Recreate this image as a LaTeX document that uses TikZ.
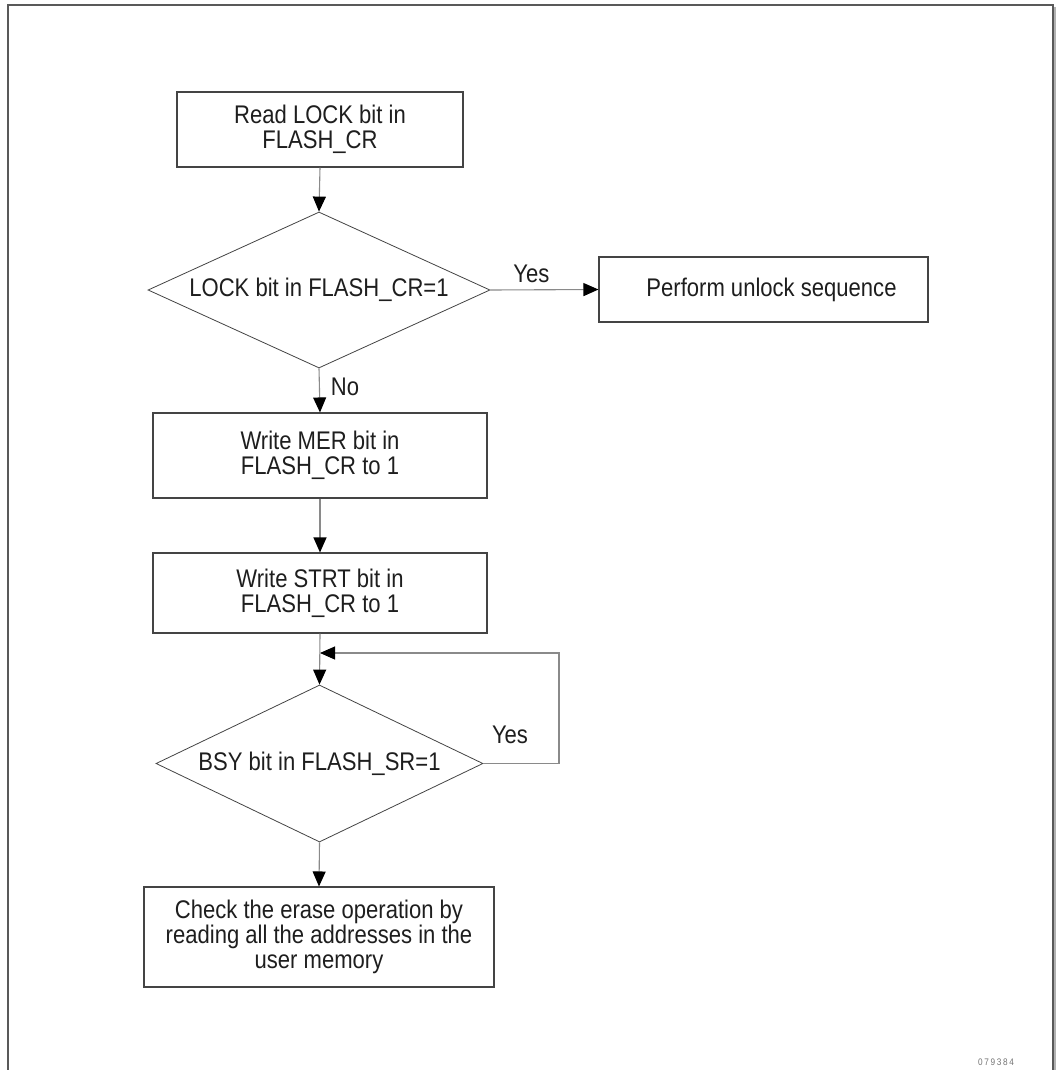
\documentclass[tikz,border=0pt]{standalone}
\usepackage{fontspec}
\setmainfont{Liberation Sans}[FakeStretch=0.865]
\usetikzlibrary{arrows.meta,shapes.geometric}
\definecolor{txt}{HTML}{1E1E1E}
\definecolor{edge}{HTML}{444444}
\definecolor{conn}{HTML}{8A8A8A}
\tikzset{
  box/.style={draw=edge, line width=1.1pt, fill=white, inner sep=0pt, align=center, text=txt,
              font=\fontsize{25.5}{25}\selectfont},
  dec/.style={draw=edge, line width=0.8pt, shape=diamond, inner sep=0pt, align=center, text=txt,
              font=\fontsize{25.5}{25}\selectfont},
  flow/.style={draw=conn, line width=1.1pt, -{Triangle[length=15pt,width=13pt,color=black]}},
  lbl/.style={text=txt, font=\fontsize{25.5}{25}\selectfont, inner sep=0pt},
}
\begin{document}
\begin{tikzpicture}[x=1pt,y=-1pt]
\useasboundingbox (0,0) rectangle (1056,1070);
\fill[white] (0,0) rectangle (1056,1070);
% frame
\draw[draw=gray!60, line width=1.2pt] (1055,7) -- (1055,1070);
\draw[draw=black!65, line width=1.8pt] (8,1070) -- (8,5) -- (1053,5) -- (1053,1070);

\node[box, minimum width=286pt, minimum height=75pt] (b1) at (320,129.5) {Read LOCK bit in\\FLASH\_CR};
\node[dec, minimum width=342pt, minimum height=156pt, aspect=2.19] (d1) at (319,290) {LOCK bit in FLASH\_CR=1};
\node[box, minimum width=329pt, minimum height=65pt] (b2) at (763.5,289.5) {\hspace*{16pt}Perform unlock sequence};
\node[box, minimum width=334pt, minimum height=85pt] (b3) at (320,455.5) {Write MER bit in\\FLASH\_CR to 1};
\node[box, minimum width=334pt, minimum height=80pt] (b4) at (320,593) {Write STRT bit in\\FLASH\_CR to 1};
\node[dec, minimum width=327pt, minimum height=157pt, aspect=2.08] (d2) at (319.5,763.5) {BSY bit in FLASH\_SR=1};
\node[box, minimum width=350pt, minimum height=100pt] (b5) at (319,937) {Check the erase operation by\\reading all the addresses in the\\user memory};

\coordinate (loopR) at (559,653);
\coordinate (loopIn) at (320,653);

\draw[flow] (b1.south) -- (d1.north);
\draw[flow] (d1.east) -- node[lbl, above=7pt, pos=0.38] (yes1) {Yes} (b2.west);
\draw[flow] (d1.south) -- node[lbl, right=11pt, pos=0.42] (no1) {No} (b3.north);
\draw[flow] (b3.south) -- (b4.north);
\draw[flow] (b4.south) -- (d2.north);
\draw[flow] (d2.east) -| (loopR) -- (loopIn);
\node[lbl] (yes2) at (510,735) {Yes};
\draw[flow] (d2.south) -- (b5.north);

\node[text=black!55, font=\fontsize{9.5}{10}\selectfont\addfontfeature{LetterSpace=18}] (fig) at (996,1062) {079384};
\end{tikzpicture}
\end{document}
